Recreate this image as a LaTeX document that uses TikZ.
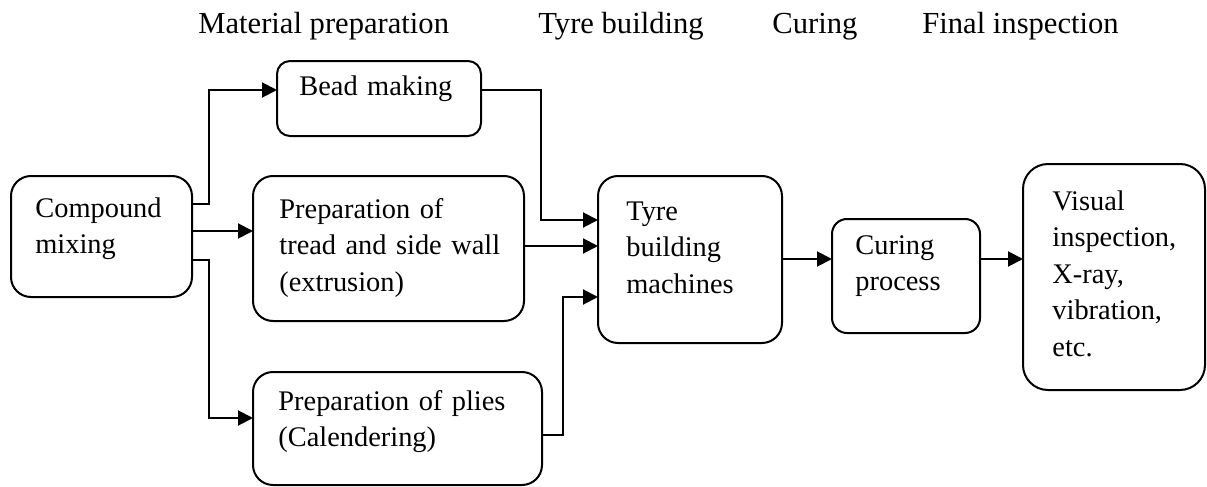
\documentclass[tikz,border=0pt]{standalone}
\usepackage{fontspec}
\setmainfont{Liberation Serif}
\usetikzlibrary{arrows.meta}

\tikzset{
  box/.style={draw, line width=1pt, rounded corners=#1, anchor=north west,
              inner sep=0pt, outer sep=0pt},
  box/.default=10pt,
  txt/.style={anchor=base west, inner sep=0pt, align=left, text width=130pt,
              font={\fontsize{14.2}{18.3}\selectfont}},
  head/.style={anchor=base west, inner sep=0pt,
               font={\fontsize{15.3}{18}\selectfont}},
  arr/.style={line width=1pt, -{Triangle[length=7.5pt,width=7.5pt]}},
}

\begin{document}
\begin{tikzpicture}[x=0.5pt, y=-0.5pt]
\useasboundingbox (0,0) rectangle (1207,487);

% stage headings
\node[head] (h1) at (198,33) {Material preparation};
\node[head] (h2) at (538,33) {Tyre building};
\node[head] (h3) at (772,33) {Curing};
\node[head] (h4) at (922,33) {Final inspection};

% process boxes
\node[box, minimum width=90.5pt, minimum height=60.5pt] (compound) at (11,176) {};
\node[box=6.5pt, minimum width=102pt, minimum height=37.5pt] (bead) at (277,61) {};
\node[box, minimum width=135.5pt, minimum height=72.5pt] (tread) at (253,176) {};
\node[box, minimum width=144.5pt, minimum height=56.5pt] (plies) at (253,372) {};
\node[box, minimum width=92pt, minimum height=83.5pt] (tyre) at (598,176) {};
\node[box=7.5pt, minimum width=74pt, minimum height=57pt] (curing) at (832,219) {};
\node[box=12.5pt, minimum width=91pt, minimum height=113pt] (final) at (1023,164) {};

% box texts
\node[txt] (compound-t) at (35,217) {Compound\\mixing};
\node[txt] (bead-t) at (299,96) {Bead making};
\node[txt] (tread-t) at (279,218) {Preparation of\\tread and side wall\\(extrusion)};
\node[txt] (plies-t) at (278,410) {Preparation of plies\\(Calendering)};
\node[txt] (tyre-t) at (626,220) {Tyre\\building\\machines};
\node[txt] (curing-t) at (855,254) {Curing\\process};
\node[txt] (final-t) at (1052,210) {Visual\\inspection,\\X-ray,\\vibration,\\etc.};

% connectors
\draw[arr] (compound.east |- 0,204) -- (209,204) |- (bead.west |- 0,90);
\draw[arr] (compound.east |- 0,231) -- (tread.west |- 0,231);
\draw[arr] (compound.east |- 0,260) -- (209,260) |- (plies.west |- 0,418);
\draw[arr] (bead.east |- 0,90) -- (541,90) |- (tyre.west |- 0,220);
\draw[arr] (tread.east |- 0,246) -- (tyre.west |- 0,246);
\draw[arr] (plies.east |- 0,435) -- (563,435) |- (tyre.west |- 0,297);
\draw[arr] (tyre.east |- 0,259) -- (curing.west |- 0,259);
\draw[arr] (curing.east |- 0,259) -- (final.west |- 0,259);
\end{tikzpicture}
\end{document}
